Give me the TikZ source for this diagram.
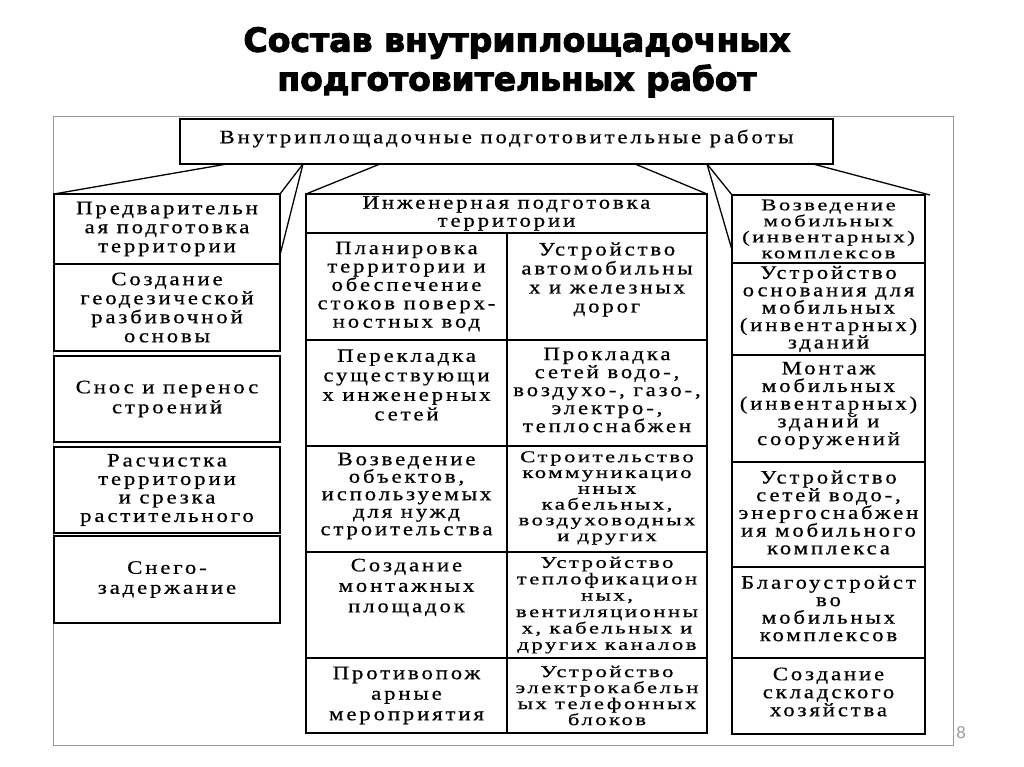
\documentclass[tikz,border=0pt]{standalone}
\usepackage{fontspec}
\setmainfont{Liberation Serif}
\newfontfamily\cellfont{Liberation Serif}[FakeStretch=1.2,LetterSpace=15,FakeBold=0.6]
\newfontfamily\cellfontb{Liberation Serif}[FakeStretch=1.38,LetterSpace=15,FakeBold=0.6]
\newfontfamily\titlefont{DejaVu Sans}[FakeBold=3]
\newfontfamily\pnfont{Liberation Sans}
\newcommand{\celltext}[5][18.5pt]{\parbox[c][#3][c]{#2}{\centering\cellfont\fontsize{19pt}{#1}\selectfont #5\par\vspace*{#4}}}
\newcommand{\tightcell}[5][16pt]{\parbox[c][#3][c]{#2}{\centering\cellfontb\fontsize{16.5pt}{#1}\selectfont #5\par\vspace*{#4}}}
\tikzset{
  cellbox/.style={draw=black, line width=1.6pt, inner sep=0pt, outer sep=0pt, anchor=north west},
  conn/.style={draw=black, line width=1.3pt},
  frame/.style={draw=black!40, line width=1pt}
}
\begin{document}
\begin{tikzpicture}[x=1pt,y=-1pt]
\useasboundingbox (0,0) rectangle (1024,767);
\fill[white] (0,0) rectangle (1024,767);
% title
\node[font=\titlefont\bfseries] (t1) at (517,43) {\resizebox{547pt}{!}{Состав внутриплощадочных}};
\node[font=\titlefont\bfseries] (t2) at (517,81) {\resizebox{479pt}{!}{подготовительных работ}};
% frame
\draw[frame] (53,117) rectangle (953,745);
\node[text=black!40, font=\pnfont\fontsize{17pt}{17pt}\selectfont] (pn) at (961,733) {8};
% top box
\node[cellbox, fill=white] (top) at (180,119) {\celltext{653pt}{45pt}{6pt}{Внутриплощадочные подготовительные работы}};
% left column
\node[cellbox] (lb1) at (54,194) {\celltext[19pt]{226pt}{70pt}{0pt}{Предварительн\\ая подготовка\\территории}};
\node[cellbox] (lb2) at (54,264) {\celltext[19pt]{226pt}{87pt}{0pt}{Создание\\геодезической\\разбивочной\\основы}};
\node[cellbox] (lb3) at (54,356) {\celltext[20pt]{226pt}{86pt}{0pt}{Снос и перенос\\строений}};
\node[cellbox] (lb4) at (54,447) {\celltext[18.5pt]{226pt}{86pt}{0pt}{Расчистка\\территории\\и срезка\\растительного}};
\node[cellbox] (lb5) at (54,536) {\celltext[20pt]{226pt}{87pt}{0pt}{Снего-\\задержание}};
% middle column
\node[cellbox] (mh) at (306,194) {\celltext[18pt]{401pt}{39pt}{0pt}{Инженерная подготовка\\территории}};
\node[cellbox] (m1l) at (306,233) {\celltext[18.4pt]{201pt}{107pt}{0pt}{Планировка\\территории и\\обеспечение\\стоков поверх-\\ностных вод}};
\node[cellbox] (m1r) at (507,233) {\celltext[19pt]{200pt}{107pt}{14pt}{Устройство\\автомобильны\\х и железных\\дорог}};
\node[cellbox] (m2l) at (306,340) {\celltext[19.5pt]{201pt}{106pt}{16pt}{Перекладка\\существующи\\х инженерных\\сетей}};
\node[cellbox] (m2r) at (507,340) {\celltext[18pt]{200pt}{106pt}{6pt}{Прокладка\\сетей водо-,\\воздухо-, газо-,\\электро-,\\теплоснабжен}};
\node[cellbox] (m3l) at (306,446) {\celltext[17.5pt]{201pt}{106pt}{6pt}{Возведение\\объектов,\\используемых\\для нужд\\строительства}};
\node[cellbox] (m3r) at (507,446) {\tightcell[15.8pt]{200pt}{106pt}{2pt}{Строительство\\коммуникацио\\нных\\кабельных,\\воздуховодных\\и других}};
\node[cellbox] (m4l) at (306,552) {\celltext[20.5pt]{201pt}{106pt}{35pt}{Создание\\монтажных\\площадок}};
\node[cellbox] (m4r) at (507,552) {\tightcell[16.4pt]{200pt}{106pt}{0pt}{Устройство\\теплофикацион\\ных,\\вентиляционны\\х, кабельных и\\других каналов}};
\node[cellbox] (m5l) at (306,658) {\celltext[20.5pt]{201pt}{75pt}{0pt}{Противопож\\арные\\мероприятия}};
\node[cellbox] (m5r) at (507,658) {\tightcell[16pt]{200pt}{75pt}{0pt}{Устройство\\электрокабельн\\ых телефонных\\блоков}};
% right column
\node[cellbox] (rb1) at (732,195) {\tightcell[16pt]{193pt}{68pt}{0pt}{Возведение\\мобильных\\(инвентарных)\\комплексов}};
\node[cellbox] (rb2) at (732,263) {\celltext[17.4pt]{193pt}{92pt}{0pt}{Устройство\\основания для\\мобильных\\(инвентарных)\\зданий}};
\node[cellbox] (rb3) at (732,355) {\celltext[17.7pt]{193pt}{107pt}{6pt}{Монтаж\\мобильных\\(инвентарных)\\зданий и\\сооружений}};
\node[cellbox] (rb4) at (732,462) {\celltext[17.7pt]{193pt}{105pt}{4pt}{Устройство\\сетей водо-,\\энергоснабжен\\ия мобильного\\комплекса}};
\node[cellbox] (rb5) at (732,567) {\celltext[17.5pt]{193pt}{91pt}{8pt}{Благоустройст\\во\\мобильных\\комплексов}};
\node[cellbox] (rb6) at (732,658) {\celltext[18pt]{193pt}{76pt}{8pt}{Создание\\складского\\хозяйства}};
% connectors
\draw[conn] ([xshift=47pt]top.south west) -- (lb1.north west);
\draw[conn] ([xshift=123pt]top.south west) -- (lb1.north east);
\draw[conn] ([xshift=123pt]top.south west) -- ([yshift=9pt]lb1.south east);
\draw[conn] ([xshift=200pt]top.south west) -- (mh.north west);
\draw[conn] ([xshift=-198pt]top.south east) -- (mh.north east);
\draw[conn] ([xshift=-126pt]top.south east) -- (rb1.north west);
\draw[conn] ([xshift=-126pt]top.south east) -- ([yshift=13pt]rb1.south west);
\draw[conn] ([xshift=-20pt]top.south east) -- ([xshift=5pt]rb1.north east);
\end{tikzpicture}
\end{document}
